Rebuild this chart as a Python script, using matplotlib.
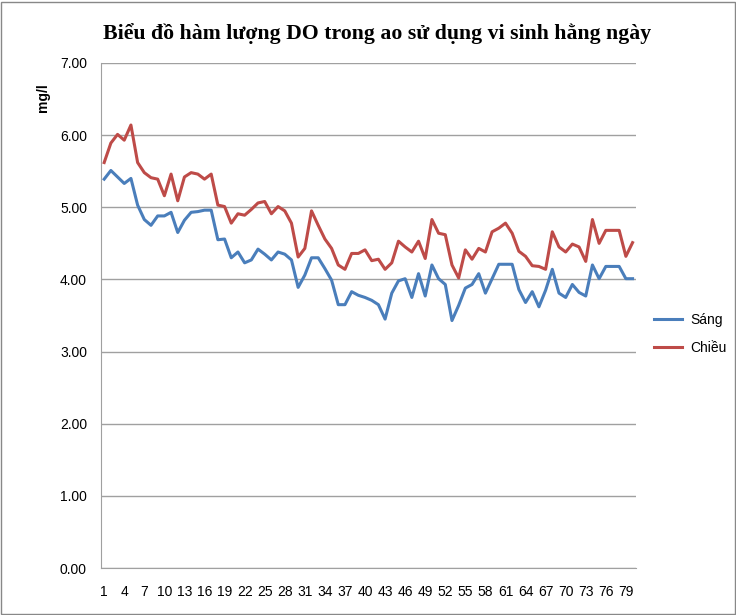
import numpy as np
import matplotlib
matplotlib.use('Agg')
import matplotlib.pyplot as plt
from matplotlib.patches import Rectangle

# daily DO readings (mg/l), days 1..80
days = list(range(1, 81))
sang = [5.39, 5.51, 5.42, 5.33, 5.40, 5.03, 4.83, 4.75, 4.88, 4.88,
        4.93, 4.65, 4.82, 4.93, 4.94, 4.96, 4.96, 4.55, 4.56, 4.30,
        4.38, 4.23, 4.27, 4.42, 4.35, 4.27, 4.38, 4.35, 4.27, 3.89,
        4.06, 4.30, 4.30, 4.15, 3.99, 3.65, 3.65, 3.83, 3.78, 3.75,
        3.71, 3.65, 3.45, 3.81, 3.98, 4.01, 3.75, 4.08, 3.77, 4.20,
        4.01, 3.93, 3.43, 3.64, 3.88, 3.93, 4.08, 3.81, 4.01, 4.21,
        4.21, 4.21, 3.86, 3.68, 3.83, 3.62, 3.85, 4.14, 3.81, 3.75,
        3.93, 3.82, 3.77, 4.20, 4.01, 4.18, 4.18, 4.18, 4.01, 4.01]
chieu = [5.62, 5.89, 6.01, 5.93, 6.14, 5.62, 5.48, 5.41, 5.39, 5.16,
         5.46, 5.09, 5.42, 5.48, 5.46, 5.39, 5.46, 5.03, 5.01, 4.78,
         4.91, 4.89, 4.97, 5.06, 5.08, 4.91, 5.01, 4.95, 4.78, 4.31,
         4.43, 4.95, 4.75, 4.56, 4.43, 4.20, 4.14, 4.36, 4.36, 4.41,
         4.26, 4.28, 4.14, 4.23, 4.53, 4.45, 4.38, 4.53, 4.29, 4.83,
         4.64, 4.62, 4.20, 4.02, 4.41, 4.28, 4.43, 4.38, 4.66, 4.71,
         4.78, 4.64, 4.39, 4.32, 4.19, 4.18, 4.14, 4.66, 4.45, 4.38,
         4.49, 4.45, 4.25, 4.83, 4.50, 4.68, 4.68, 4.68, 4.32, 4.51]
yticks = [0, 1, 2, 3, 4, 5, 6, 7]

plt.rcParams['font.family'] = ['Liberation Sans', 'DejaVu Sans']

fig = plt.figure(figsize=(7.36, 6.15), dpi=100)
ax = fig.add_axes([0.137, 0.0764, 0.727, 0.8212])

ax.plot(days, sang, color='#4A7EBB', lw=2.2, label='Sáng')
ax.plot(days, chieu, color='#BE4B48', lw=2.2, label='Chiều')

ax.set_xlim(0.5, 80.5)
ax.set_ylim(0, 7)
ax.set_yticks(yticks)
ax.set_yticklabels(['%.2f' % v for v in yticks], fontsize=10)
ax.set_xticks(days[::3])
ax.set_xticklabels([str(d) for d in days[::3]], fontsize=10)
ax.tick_params(length=0, pad=10)
ax.tick_params(axis='x', pad=12)
ax.grid(axis='y', color='#a0a0a0', lw=1)
ax.set_axisbelow(True)
for s in ['top', 'right']:
    ax.spines[s].set_visible(False)
for s in ['left', 'bottom']:
    ax.spines[s].set_color('#a0a0a0')

fig.text(0.058, 0.842, 'mg/l', rotation=90, fontsize=10, fontweight='bold',
         ha='center', va='center')
fig.text(0.512, 0.946, 'Biểu đồ hàm lượng DO trong ao sử dụng vi sinh hằng ngày',
         family='Liberation Serif', fontweight='bold', fontsize=15.7,
         ha='center', va='center')

ax.legend(loc='center left', bbox_to_anchor=(1.01, 0.463), frameon=False,
          fontsize=10, handlelength=2.0, handletextpad=0.6, labelspacing=1.0)

fig.patches.append(Rectangle((0.002, 0.002), 0.996, 0.995, transform=fig.transFigure,
                             fill=False, edgecolor='#888888', lw=1))

fig.savefig('out.png', dpi=100)
